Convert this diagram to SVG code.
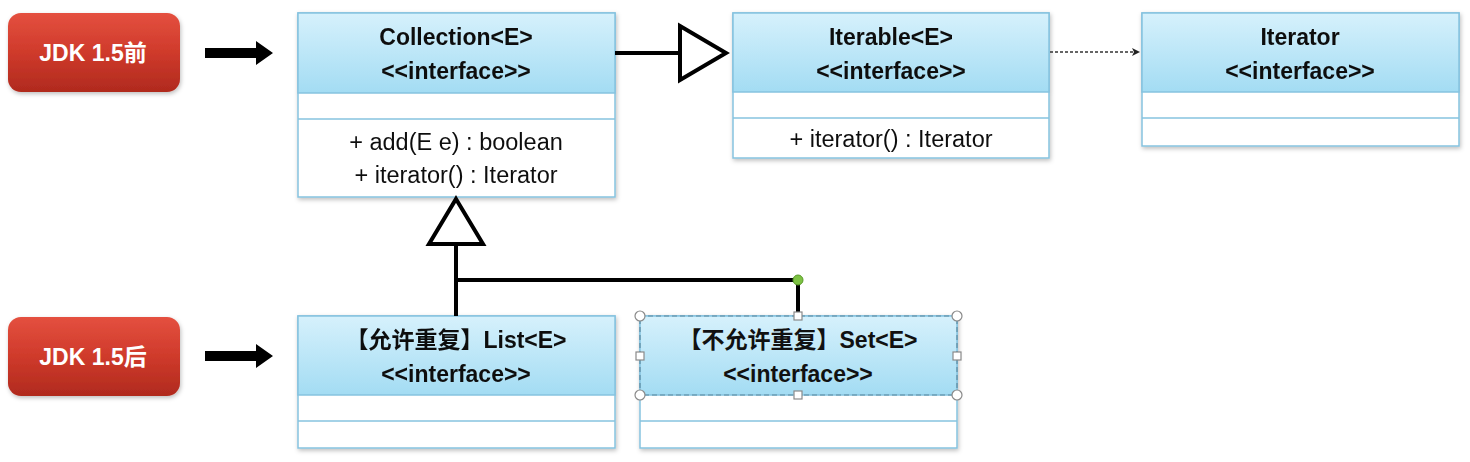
<svg xmlns="http://www.w3.org/2000/svg" width="1470" height="462" viewBox="0 0 1470 462">
<style>
.t{font-family:"Liberation Sans","Noto Sans CJK SC",sans-serif;fill:#111;text-anchor:middle}
.b{font-weight:bold;font-size:23px}
.m{font-size:23.5px}
.btn{font-family:"Liberation Sans","Noto Sans CJK SC",sans-serif;font-weight:bold;font-size:23px;fill:#fff;text-anchor:middle}
.box{fill:#fff;stroke:#86c3df;stroke-width:1.5}
.hdr{fill:url(#hg);stroke:#86c3df;stroke-width:1.5}
.sep{stroke:#86c3df;stroke-width:1.5}
.ln{stroke:#000;stroke-width:4;fill:none}
.tri{fill:#fff;stroke:#000;stroke-width:4;stroke-linejoin:miter}
.h{fill:#fff;stroke:#8a8a8a;stroke-width:1.2}
</style>
<defs>
<linearGradient id="hg" x1="0" y1="0" x2="0" y2="1">
<stop offset="0" stop-color="#d6f1fc"/>
<stop offset="1" stop-color="#a3dcf3"/>
</linearGradient>
<linearGradient id="rg" x1="0" y1="0" x2="0" y2="1">
<stop offset="0" stop-color="#e4503f"/>
<stop offset="0.5" stop-color="#cf3a2b"/>
<stop offset="1" stop-color="#b02a1e"/>
</linearGradient>
<filter id="sh" x="-5%" y="-5%" width="110%" height="115%">
<feDropShadow dx="1" dy="2" stdDeviation="2" flood-color="#000" flood-opacity="0.25"/>
</filter>
<marker id="oa" markerWidth="10" markerHeight="10" refX="9" refY="5" orient="auto" markerUnits="userSpaceOnUse">
<path d="M1,1 L9,5 L1,9 L3,5 Z" fill="#222"/>
</marker>
</defs>

<g id="btn-before">
<rect x="8" y="13" width="172" height="79" rx="13" fill="url(#rg)" filter="url(#sh)"/>
<text class="btn" x="93" y="61">JDK 1.5前</text>
</g>
<g id="btn-after">
<rect x="8" y="317" width="172" height="79" rx="13" fill="url(#rg)" filter="url(#sh)"/>
<text class="btn" x="93" y="365">JDK 1.5后</text>
</g>
<g id="arrow-before">
<path d="M205,48 L256,48 L256,41 L273,53 L256,65 L256,58 L205,58 Z" fill="#000"/>
</g>
<g id="arrow-after">
<path d="M205,351 L256,351 L256,344 L273,356 L256,368 L256,361 L205,361 Z" fill="#000"/>
</g>

<g id="collection" filter="url(#sh)">
<rect class="box" x="298" y="13" width="317" height="184"/>
<rect class="hdr" x="298" y="13" width="317" height="80"/>
<line class="sep" x1="298" y1="119" x2="615" y2="119"/>
<text class="t b" x="456" y="45">Collection&lt;E&gt;</text>
<text class="t b" x="456" y="79">&lt;&lt;interface&gt;&gt;</text>
<text class="t m" x="456" y="150">+ add(E e) : boolean</text>
<text class="t m" x="456" y="183">+ iterator() : Iterator</text>
</g>

<g id="iterable" filter="url(#sh)">
<rect class="box" x="733" y="13" width="316" height="145"/>
<rect class="hdr" x="733" y="13" width="316" height="79"/>
<line class="sep" x1="733" y1="118" x2="1049" y2="118"/>
<text class="t b" x="891" y="45">Iterable&lt;E&gt;</text>
<text class="t b" x="891" y="79">&lt;&lt;interface&gt;&gt;</text>
<text class="t m" x="891" y="147">+ iterator() : Iterator</text>
</g>

<g id="iterator" filter="url(#sh)">
<rect class="box" x="1142" y="13" width="317" height="133"/>
<rect class="hdr" x="1142" y="13" width="317" height="79"/>
<line class="sep" x1="1142" y1="118" x2="1459" y2="118"/>
<text class="t b" x="1300" y="45">Iterator</text>
<text class="t b" x="1300" y="79">&lt;&lt;interface&gt;&gt;</text>
</g>

<g id="list" filter="url(#sh)">
<rect class="box" x="298" y="316" width="317" height="132"/>
<rect class="hdr" x="298" y="316" width="317" height="79"/>
<line class="sep" x1="298" y1="421" x2="615" y2="421"/>
<text class="t b" x="456" y="348">【允许重复】List&lt;E&gt;</text>
<text class="t b" x="456" y="382">&lt;&lt;interface&gt;&gt;</text>
</g>

<g id="set">
<g filter="url(#sh)">
<rect class="box" x="640" y="316" width="317" height="132"/>
<rect class="hdr" x="640" y="316" width="317" height="79"/>
<line class="sep" x1="640" y1="421" x2="957" y2="421"/>
</g>
<rect x="640" y="316" width="317" height="79" fill="none" stroke="#5d8aa0" stroke-width="1.2" stroke-dasharray="5,3"/>
<text class="t b" x="798" y="348">【不允许重复】Set&lt;E&gt;</text>
<text class="t b" x="798" y="382">&lt;&lt;interface&gt;&gt;</text>
</g>

<g id="connectors">
<line class="ln" x1="615" y1="53" x2="680" y2="53"/>
<path class="tri" d="M680,26 L726,53 L680,80 Z"/>
<line x1="1050" y1="52" x2="1140" y2="52" stroke="#333" stroke-width="1.3" stroke-dasharray="3,2" marker-end="url(#oa)"/>
<path class="tri" d="M456,199 L483,244 L429,244 Z"/>
<line class="ln" x1="456" y1="244" x2="456" y2="316"/>
<line class="ln" x1="456" y1="280" x2="798" y2="280"/>
<line class="ln" x1="798" y1="280" x2="798" y2="313"/>
<circle cx="798" cy="280" r="5" fill="#7dc243" stroke="#5a9a2a" stroke-width="1"/>
</g>

<g id="selection-handles">
<circle class="h" cx="640" cy="316" r="5"/>
<circle class="h" cx="957" cy="316" r="5"/>
<circle class="h" cx="640" cy="395" r="5"/>
<circle class="h" cx="957" cy="395" r="5"/>
<rect class="h" x="794" y="312" width="8" height="8"/>
<rect class="h" x="794" y="391" width="8" height="8"/>
<rect class="h" x="636" y="352" width="8" height="8"/>
<rect class="h" x="953" y="352" width="8" height="8"/>
</g>
</svg>
